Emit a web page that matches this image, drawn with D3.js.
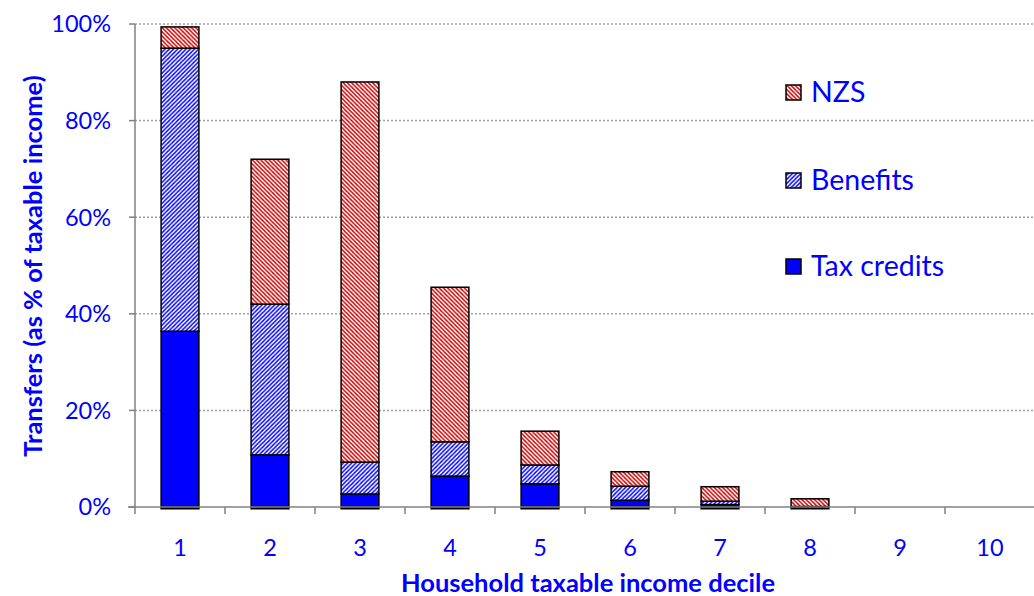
<!DOCTYPE html>
<html><head><meta charset="utf-8">
<script src="https://cdn.jsdelivr.net/npm/d3@7/dist/d3.min.js"></script>
<style>body{margin:0;background:#fff;} text{font-family:Lato,"Open Sans",sans-serif;}</style>
</head><body>
<svg id="c" width="1034" height="596"></svg>
<script>
const deciles = ["1","2","3","4","5","6","7","8","9","10"];
const taxCredits = [36.4, 10.8, 2.7, 6.4, 4.8, 1.4, 0.5, 0.0, 0, 0];
const benefits   = [58.6, 31.2, 6.6, 7.1, 3.9, 2.9, 0.7, 0.1, 0, 0];
const nzs        = [4.4, 30.0, 78.7, 32.0, 7.0, 3.0, 3.0, 1.6, 0, 0];
const seriesNames = ["Tax credits", "Benefits", "NZS"];
const yTicks = [0, 20, 40, 60, 80, 100];

const svg = d3.select("#c");
const L = 135, R = 1035, T = 24, B = 507;
const blue = "#0000ff";

const defs = svg.append("defs");
function stripe(id, color, dir) {
  const p = defs.append("pattern").attr("id", id).attr("patternUnits", "userSpaceOnUse")
    .attr("width", 4.2).attr("height", 4.2);
  p.append("rect").attr("width", 4.2).attr("height", 4.2).attr("fill", "#fff");
  const d = dir > 0 ? "M-1,1.1 l2.1,-2.1 M0,4.2 l4.2,-4.2 M3.1,5.3 l2.1,-2.1" : "M-1,3.1 l2.1,2.1 M0,0 l4.2,4.2 M3.1,-1 l2.1,2.1";
  p.append("path").attr("d", d).attr("stroke", color).attr("stroke-width", 1.4);
}
stripe("pBen", blue, 1);
stripe("pNzs", "#cc0000", -1);
const fills = ["blue", "url(#pBen)", "url(#pNzs)"];

const x = d3.scaleBand().domain(deciles).range([L, R]).paddingInner(0.58).paddingOuter(0.29);
const xb = d3.scaleBand().domain(deciles).range([L, R]);
const y = d3.scaleLinear().domain([0, 100]).range([B, T]);

// gridlines
svg.append("g").selectAll("line").data(yTicks.filter(d => d > 0)).join("line")
  .attr("x1", L).attr("x2", 1034).attr("y1", d => y(d)).attr("y2", d => y(d))
  .attr("stroke", "#a0a0a0").attr("stroke-width", 1.5).attr("stroke-dasharray", "2,2");

// stacked bars
const rows = deciles.map((d, i) => ({decile: d, "Tax credits": taxCredits[i], "Benefits": benefits[i], "NZS": nzs[i]}));
const stack = d3.stack().keys(seriesNames)(rows);
stack.forEach((s, si) => {
  svg.append("g").selectAll("rect").data(s.filter(d => d[1] - d[0] > 0)).join("rect")
    .attr("x", d => x(d.data.decile)).attr("width", x.bandwidth())
    .attr("y", d => y(d[1])).attr("height", d => y(d[0]) - y(d[1]))
    .attr("fill", fills[si]).attr("stroke", "#000").attr("stroke-width", 1.5);
});
// dark base line under each non-empty bar
svg.append("g").selectAll("rect").data(rows.filter(r => r["Tax credits"] + r["Benefits"] + r["NZS"] > 0)).join("rect")
  .attr("x", d => x(d.decile) - 0.75).attr("width", x.bandwidth() + 1.5)
  .attr("y", B).attr("height", 2.5).attr("fill", "#000");

// axes
const ax = svg.append("g").attr("stroke", "#808080").attr("stroke-width", 1.5);
ax.append("line").attr("x1", L).attr("x2", L).attr("y1", T).attr("y2", B);
ax.append("line").attr("x1", L - 7).attr("x2", 1034).attr("y1", B).attr("y2", B);
ax.selectAll(".yt").data(yTicks).join("line").attr("class", "yt")
  .attr("x1", L - 6).attr("x2", L).attr("y1", d => y(d)).attr("y2", d => y(d));
ax.selectAll(".xt").data(deciles).join("line").attr("class", "xt")
  .attr("x1", d => xb(d)).attr("x2", d => xb(d)).attr("y1", B).attr("y2", B + 7);

svg.append("g").selectAll("text").data(yTicks).join("text")
  .attr("x", L - 24).attr("y", d => y(d)).attr("dy", "0.36em").attr("text-anchor", "end")
  .attr("fill", blue).attr("font-size", 23.5).text(d => d + "%");
svg.append("g").selectAll("text").data(deciles).join("text")
  .attr("x", d => xb(d) + xb.bandwidth() / 2).attr("y", 556).attr("text-anchor", "middle")
  .attr("fill", blue).attr("font-size", 23.5).text(d => d);

svg.append("text").attr("x", 588).attr("y", 592).attr("text-anchor", "middle")
  .attr("fill", blue).attr("font-size", 25.5).attr("font-weight", "bold").text("Household taxable income decile");
svg.append("text").attr("transform", "translate(42,266) rotate(-90)").attr("text-anchor", "middle")
  .attr("fill", blue).attr("font-size", 25.5).attr("font-weight", "bold").text("Transfers (as %  of taxable income)");

// legend
const legend = [{name: "NZS", fill: fills[2], y: 92}, {name: "Benefits", fill: fills[1], y: 180}, {name: "Tax credits", fill: fills[0], y: 266}];
const lg = svg.append("g").selectAll("g").data(legend).join("g");
lg.append("rect").attr("x", 786).attr("y", d => d.y - 7).attr("width", 15).attr("height", 15)
  .attr("fill", d => d.fill).attr("stroke", "#000").attr("stroke-width", 1.5);
lg.append("text").attr("x", 811).attr("y", d => d.y).attr("dy", "0.36em")
  .attr("fill", blue).attr("font-size", 28.5).text(d => d.name);
</script>
</body></html>
